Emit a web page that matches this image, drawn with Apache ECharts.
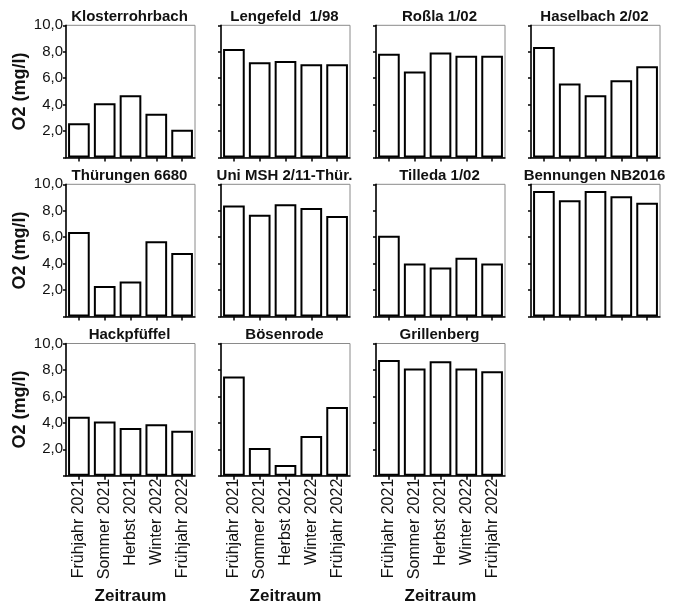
<!DOCTYPE html>
<html>
<head>
<meta charset="utf-8">
<script src="https://cdn.jsdelivr.net/npm/echarts@6/dist/echarts.min.js"></script>
<style>
html,body{margin:0;padding:0;background:#fff;}
#chart{width:675px;height:607px;}
</style>
</head>
<body>
<div id="chart"></div>
<script>
// ---- data ----
const categories = ['Frühjahr 2021', 'Sommer 2021', 'Herbst 2021', 'Winter 2022', 'Frühjahr 2022'];
const stations = ['Klosterrohrbach', 'Lengefeld  1/98', 'Roßla 1/02', 'Haselbach 2/02',
  'Thürungen 6680', 'Uni MSH 2/11-Thür.', 'Tilleda 1/02', 'Bennungen NB2016',
  'Hackpfüffel', 'Bösenrode', 'Grillenberg'];
const klosterrohrbach = [2.6, 4.1, 4.7, 3.3, 2.1];
const lengefeld = [8.2, 7.2, 7.3, 7.05, 7.05];
const rossla = [7.85, 6.5, 7.95, 7.7, 7.7];
const haselbach = [8.35, 5.6, 4.7, 5.85, 6.9];
const thuerungen = [6.4, 2.3, 2.65, 5.7, 4.8];
const uniMSH = [8.4, 7.7, 8.5, 8.2, 7.6];
const tilleda = [6.1, 4.0, 3.7, 4.45, 4.0];
const bennungen = [9.5, 8.8, 9.5, 9.1, 8.6];
const hackpfueffel = [4.45, 4.1, 3.6, 3.9, 3.4];
const boesenrode = [7.5, 2.1, 0.8, 3.0, 5.2];
const grillenberg = [8.75, 8.1, 8.65, 8.1, 7.9];
const yMin = 0, yMax = 10, yStep = 2;
const yAxisTitle = 'O2 (mg/l)';
const xAxisTitle = 'Zeitraum';

const seriesValues = [klosterrohrbach, lengefeld, rossla, haselbach,
  thuerungen, uniMSH, tilleda, bennungen, hackpfueffel, boesenrode, grillenberg];

// ---- layout ----
const colLeft = [66, 221, 376, 531];
const rowTop = [25.3, 184.3, 343.5];
const W = 129, H = 132.2;
const FONT = 'Liberation Sans, Arial, sans-serif';

const grids = [], xAxes = [], yAxes = [], series = [], titles = [];
seriesValues.forEach((vals, i) => {
  const row = Math.floor(i / 4), col = i % 4;
  const bottomRow = (row === 2);
  grids.push({left: colLeft[col], top: rowTop[row], width: W, height: H,
    show: true, borderColor: '#8a8a8a', borderWidth: 1, backgroundColor: 'transparent'});
  xAxes.push({
    type: 'category', gridIndex: i, data: categories,
    axisLine: {show: true, lineStyle: {color: '#000', width: 1.5}},
    axisTick: {show: true, alignWithLabel: true, length: 4, lineStyle: {color: '#000', width: 1.5}},
    axisLabel: {show: bottomRow, rotate: 90, margin: 3, color: '#111', fontSize: 16, fontFamily: FONT},
    name: bottomRow ? xAxisTitle : '', nameLocation: 'middle', nameGap: 112,
    nameTextStyle: {fontSize: 17, fontWeight: 'bold', color: '#111', fontFamily: FONT},
    splitLine: {show: false}
  });
  yAxes.push({
    type: 'value', gridIndex: i, min: yMin, max: yMax, interval: yStep,
    axisLine: {show: true, lineStyle: {color: '#000', width: 1.5}},
    axisTick: {show: true, length: 3, lineStyle: {color: '#000', width: 1.5}},
    axisLabel: {show: col === 0, margin: 3, color: '#111', fontSize: 15, fontFamily: FONT,
      formatter: v => v === 0 ? '' : v.toFixed(1).replace('.', ',')},
    splitLine: {show: false},
    name: col === 0 ? yAxisTitle : '', nameLocation: 'middle', nameGap: 37, nameRotate: 90,
    nameTextStyle: {fontSize: 18, fontWeight: 'bold', color: '#111', fontFamily: FONT}
  });
  series.push({
    type: 'bar', xAxisIndex: i, yAxisIndex: i, data: vals,
    barWidth: '84%',
    itemStyle: {color: '#fff', borderColor: '#000', borderWidth: 2},
    silent: true, animation: false
  });
  titles.push({
    text: stations[i], left: colLeft[col] + W / 2 - 1, top: rowTop[row] - 16, textAlign: 'center',
    padding: 0,
    textStyle: {fontSize: 15, fontWeight: 'bold', color: '#111', fontFamily: FONT}
  });
});

const chart = echarts.init(document.getElementById('chart'), null, {renderer: 'canvas'});
chart.setOption({
  backgroundColor: '#fff',
  animation: false,
  title: titles,
  grid: grids, xAxis: xAxes, yAxis: yAxes, series: series
});
</script>
</body>
</html>
